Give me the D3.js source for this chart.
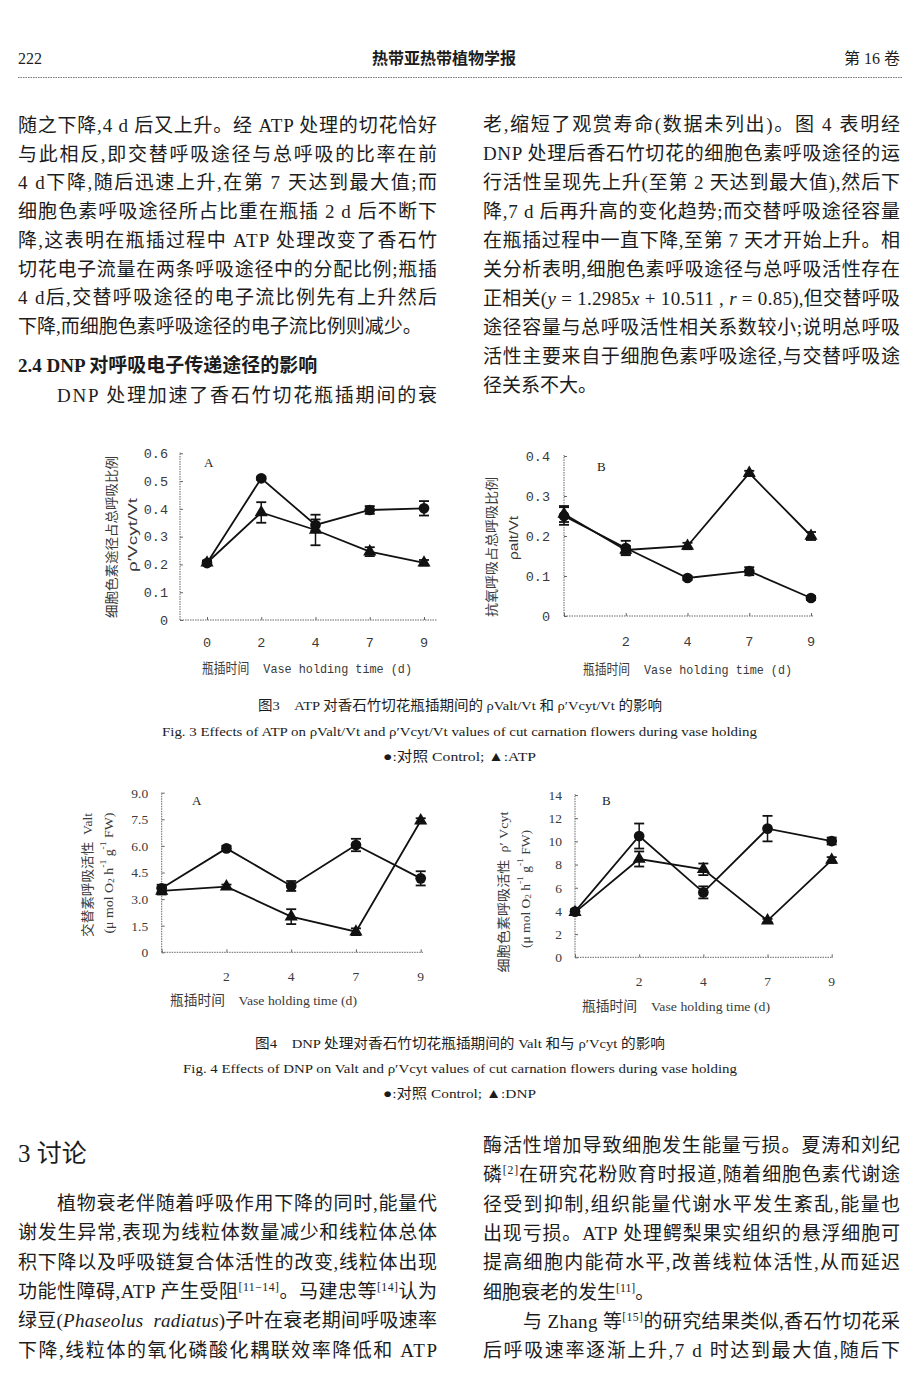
<!DOCTYPE html>
<html><head><meta charset="utf-8">
<script src="https://cdn.jsdelivr.net/npm/d3@7/dist/d3.min.js"></script>
<style>
html,body{margin:0;padding:0;background:#fff;}
svg{display:block;}
</style></head><body>
<svg id="page" width="920" height="1380"></svg>
<script>
// ---------------- DATA ----------------
const days = ["0", "2", "4", "7", "9"];

// Fig. 3A  rho'Vcyt/Vt
const fig3A_control = [0.205, 0.510, 0.342, 0.396, 0.402];
const fig3A_controlErr = [0.006, 0.006, 0.020, 0.014, 0.026];
const fig3A_atp = [0.206, 0.387, 0.324, 0.246, 0.206];
const fig3A_atpErr = [0.008, 0.037, 0.055, 0.016, 0.010];
const fig3A_yTicks = [0, 0.1, 0.2, 0.3, 0.4, 0.5, 0.6];

// Fig. 3B  rho alt/Vt
const fig3B_control = [0.250, 0.170, 0.095, 0.112, 0.045];
const fig3B_controlErr = [0.022, 0.018, 0.005, 0.010, 0.005];
const fig3B_atp = [0.255, 0.165, 0.175, 0.357, 0.200];
const fig3B_atpErr = [0.020, 0.010, 0.008, 0.006, 0.010];
const fig3B_yTicks = [0, 0.1, 0.2, 0.3, 0.4];

// Fig. 4A  Valt
const fig4A_control = [3.61, 5.86, 3.74, 6.05, 4.17];
const fig4A_controlErr = [0.20, 0.15, 0.28, 0.35, 0.40];
const fig4A_dnp = [3.46, 3.70, 2.01, 1.16, 7.42];
const fig4A_dnpErr = [0.20, 0.12, 0.42, 0.19, 0.14];
const fig4A_yTicks = [0, 1.5, 3.0, 4.5, 6.0, 7.5, 9.0];

// Fig. 4B  rho'Vcyt
const fig4B_control = [3.94, 10.46, 5.60, 11.10, 10.03];
const fig4B_controlErr = [0.20, 1.08, 0.52, 1.10, 0.30];
const fig4B_dnp = [3.88, 8.48, 7.59, 3.16, 8.39];
const fig4B_dnpErr = [0.20, 0.65, 0.50, 0.15, 0.25];
const fig4B_yTicks = [0, 2, 4, 6, 8, 10, 12, 14];

// ---------------- TEXT ----------------
const headerLeft = "222";
const headerCenter = "热带亚热带植物学报";
const headerRight = "第 16 卷";

const leftTopLines = [
  "随之下降,4 d 后又上升。经 ATP 处理的切花恰好",
  "与此相反,即交替呼吸途径与总呼吸的比率在前",
  "4 d下降,随后迅速上升,在第 7 天达到最大值;而",
  "细胞色素呼吸途径所占比重在瓶插 2 d 后不断下",
  "降,这表明在瓶插过程中 ATP 处理改变了香石竹",
  "切花电子流量在两条呼吸途径中的分配比例;瓶插",
  "4 d后,交替呼吸途径的电子流比例先有上升然后",
  "下降,而细胞色素呼吸途径的电子流比例则减少。"
];
const sectionHeading = "2.4 DNP 对呼吸电子传递途径的影响";
const leftTopLast = "DNP 处理加速了香石竹切花瓶插期间的衰";

const rightTopLines = [
  "老,缩短了观赏寿命(数据未列出)。图 4 表明经",
  "DNP 处理后香石竹切花的细胞色素呼吸途径的运",
  "行活性呈现先上升(至第 2 天达到最大值),然后下",
  "降,7 d 后再升高的变化趋势;而交替呼吸途径容量",
  "在瓶插过程中一直下降,至第 7 天才开始上升。相",
  "关分析表明,细胞色素呼吸途径与总呼吸活性存在",
  "正相关({i:y} = 1.2985{i:x} + 10.511 , {i:r} = 0.85),但交替呼吸",
  "途径容量与总呼吸活性相关系数较小;说明总呼吸",
  "活性主要来自于细胞色素呼吸途径,与交替呼吸途",
  "径关系不大。"
];

const fig3Caption = [
  "图3　ATP 对香石竹切花瓶插期间的 ρValt/Vt 和 ρ′Vcyt/Vt 的影响",
  "Fig. 3 Effects of ATP on ρValt/Vt and ρ′Vcyt/Vt values of cut carnation flowers during vase holding",
  "●:对照 Control; ▲:ATP"
];
const fig4Caption = [
  "图4　DNP 处理对香石竹切花瓶插期间的 Valt 和与 ρ′Vcyt 的影响",
  "Fig. 4 Effects of DNP on Valt and ρ′Vcyt values of cut carnation flowers during vase holding",
  "●:对照 Control; ▲:DNP"
];

const discussionHeading = "3 讨论";
const leftBottomLines = [
  "植物衰老伴随着呼吸作用下降的同时,能量代",
  "谢发生异常,表现为线粒体数量减少和线粒体总体",
  "积下降以及呼吸链复合体活性的改变,线粒体出现",
  "功能性障碍,ATP 产生受阻{s:[11−14]}。马建忠等{s:[14]}认为",
  "绿豆({i:Phaseolus  radiatus})子叶在衰老期间呼吸速率",
  "下降,线粒体的氧化磷酸化耦联效率降低和 ATP"
];
const rightBottomLines = [
  "酶活性增加导致细胞发生能量亏损。夏涛和刘纪",
  "磷{s:[2]}在研究花粉败育时报道,随着细胞色素代谢途",
  "径受到抑制,组织能量代谢水平发生紊乱,能量也",
  "出现亏损。ATP 处理鳄梨果实组织的悬浮细胞可",
  "提高细胞内能荷水平,改善线粒体活性,从而延迟",
  "细胞衰老的发生{s:[11]}。",
  "与 Zhang 等{s:[15]}的研究结果类似,香石竹切花采",
  "后呼吸速率逐渐上升,7 d 时达到最大值,随后下"
];

// ---------------- DRAW ----------------
const svg = d3.select("#page");
svg.append("rect").attr("width", 920).attr("height", 1380).attr("fill", "#fff");

const BODY = '"Liberation Serif","Noto Sans CJK SC",serif';
const INK = "#1c1c1c";

function addRich(textSel, str, supShift) {
  const parts = str.split(/(\{[is]:[^}]*\})/).filter(s => s.length);
  let pendingDown = 0;
  parts.forEach(p => {
    const m = p.match(/^\{([is]):([^}]*)\}$/);
    if (m && m[1] === "s") {
      textSel.append("tspan").attr("dy", -supShift).attr("font-size", "0.62em").text(m[2]);
      pendingDown = supShift;
    } else {
      const ts = textSel.append("tspan");
      if (pendingDown) { ts.attr("dy", pendingDown); pendingDown = 0; }
      if (m) ts.attr("font-style", "italic").text(m[2]);
      else ts.text(p);
    }
  });
}

function bodyLine(str, x, y, width, opts = {}) {
  const t = svg.append("text")
    .attr("x", x).attr("y", y)
    .attr("font-family", BODY)
    .attr("font-size", opts.size || 19)
    .attr("font-weight", opts.weight || 400)
    .attr("fill", INK)
    .attr("xml:space", "preserve");
  addRich(t, str, 7);
  if (width) t.attr("textLength", width).attr("lengthAdjust", "spacing");
  return t;
}

// header
svg.append("text").attr("x", 18).attr("y", 64).attr("font-family", BODY).attr("font-size", 16).attr("fill", INK).text(headerLeft);
svg.append("text").attr("x", 444).attr("y", 64).attr("text-anchor", "middle").attr("font-family", BODY).attr("font-size", 16).attr("font-weight", 600).attr("fill", INK).text(headerCenter);
svg.append("text").attr("x", 900).attr("y", 64).attr("text-anchor", "end").attr("font-family", BODY).attr("font-size", 16).attr("fill", INK).text(headerRight);
svg.append("line").attr("x1", 18).attr("x2", 902).attr("y1", 77.5).attr("y2", 77.5)
  .attr("stroke", "#777").attr("stroke-width", 1).attr("stroke-dasharray", "1.5,1");

// top left column
leftTopLines.forEach((s, i) => {
  bodyLine(s, 18, 132 + i * 28.7, i < leftTopLines.length - 1 ? 419 : null);
});
bodyLine(sectionHeading, 18, 372, null, { weight: 700 });
bodyLine(leftTopLast, 57, 402, 380);

// top right column
rightTopLines.forEach((s, i) => {
  bodyLine(s, 483, 131 + i * 29.0, i < rightTopLines.length - 1 ? 417 : null);
});

// bottom
bodyLine(discussionHeading, 18, 1162, null, { size: 25 });
leftBottomLines.forEach((s, i) => {
  const x = i === 0 ? 57 : 18;
  bodyLine(s, x, 1210 + i * 29.3, 437 - x);
});
rightBottomLines.forEach((s, i) => {
  const x = i === 6 ? 523 : 483;
  bodyLine(s, x, 1152 + i * 29.3, i === 5 ? null : 900 - x);
});

// captions
function caption(lines, ys, xs, widths) {
  lines.forEach((s, i) => {
    svg.append("text").attr("x", xs[i]).attr("y", ys[i])
      .attr("font-family", BODY).attr("font-size", 13.5).attr("fill", INK)
      .attr("textLength", widths[i]).attr("lengthAdjust", "spacingAndGlyphs")
      .attr("xml:space", "preserve")
      .text(s);
  });
}
caption(fig3Caption, [710, 736, 761], [258, 162, 383], [404, 595, 153]);
caption(fig4Caption, [1048, 1073, 1098], [255, 183, 383], [410, 554, 153]);

// ---------------- CHARTS ----------------
function drawChart(cfg) {
  const g = svg.append("g");
  const x = d3.scalePoint().domain(days).range(cfg.xRange);
  const y = d3.scaleLinear().domain(cfg.yDomain).range(cfg.yRange);
  const axisColor = "#666";

  // y axis
  const yAxis = d3.axisLeft(y).tickValues(cfg.yTicks).tickFormat(cfg.yFmt)
    .tickSizeInner(-3).tickSizeOuter(0).tickPadding(cfg.yPad);
  const ya = g.append("g").attr("transform", `translate(${cfg.axisX},0)`).call(yAxis);
  ya.select(".domain").remove();
  ya.selectAll(".tick line").attr("stroke", axisColor);
  ya.selectAll(".tick text").attr("font-family", cfg.font).attr("font-size", cfg.tickSize).attr("fill", "#3a3a3a");
  g.append("line").attr("x1", cfg.axisX).attr("x2", cfg.axisX)
    .attr("y1", y(0)).attr("y2", cfg.yTop)
    .attr("stroke", axisColor).attr("stroke-dasharray", "1.5,1");

  // x axis
  g.append("line").attr("x1", cfg.axisX).attr("x2", cfg.xEnd)
    .attr("y1", y(0)).attr("y2", y(0))
    .attr("stroke", axisColor).attr("stroke-dasharray", "1.5,1");
  const xAxis = d3.axisBottom(x).tickSizeInner(-3).tickSizeOuter(0).tickFormat("");
  const xa = g.append("g").attr("transform", `translate(0,${y(0)})`).call(xAxis);
  xa.select(".domain").remove();
  xa.selectAll(".tick line").attr("stroke", axisColor);
  g.selectAll(".xlab").data(days.filter(d => cfg.xLabels.includes(d))).enter().append("text")
    .attr("x", d => x(d)).attr("y", cfg.xLabelY).attr("text-anchor", "middle")
    .attr("font-family", cfg.font).attr("font-size", cfg.tickSize).attr("fill", "#3a3a3a")
    .text(d => d);

  // x title
  g.append("text").attr("x", cfg.xTitle[0]).attr("y", cfg.xTitle[1])
    .attr("font-family", cfg.titleFont).attr("font-size", 13.5).attr("fill", "#3a3a3a")
    .attr("textLength", cfg.xTitle[2]).attr("lengthAdjust", "spacingAndGlyphs")
    .attr("xml:space", "preserve")
    .text(cfg.xTitleText);

  // panel letter
  g.append("text").attr("x", cfg.letter[0]).attr("y", cfg.letter[1])
    .attr("font-family", '"Liberation Serif",serif').attr("font-size", 13).attr("fill", "#222")
    .text(cfg.letterText);

  // y titles (rotated)
  cfg.yTitles.forEach(yt => {
    const t = g.append("text")
      .attr("transform", `translate(${yt.x},${yt.cy}) rotate(-90)`)
      .attr("text-anchor", "middle").attr("dominant-baseline", "central")
      .attr("font-family", yt.font).attr("font-size", yt.size).attr("fill", "#3a3a3a")
      .attr("xml:space", "preserve");
    if (yt.len) t.attr("textLength", yt.len).attr("lengthAdjust", "spacingAndGlyphs");
    yt.parts.forEach(p => {
      const ts = t.append("tspan").text(p.t);
      if (p.dy) ts.attr("dy", p.dy);
      if (p.fs) ts.attr("font-size", p.fs);
    });
  });

  // series
  const line = d3.line().x((d, i) => x(days[i])).y(d => y(d));
  cfg.series.forEach(s => {
    g.append("path").attr("d", line(s.values)).attr("fill", "none")
      .attr("stroke", "#111").attr("stroke-width", 1.8);
  });
  cfg.series.forEach(s => {
    const eb = g.append("g");
    s.values.forEach((v, i) => {
      const cx = x(days[i]);
      const e = s.err[i];
      const y1 = y(v + e), y2 = y(v - e);
      eb.append("line").attr("x1", cx).attr("x2", cx).attr("y1", y1).attr("y2", y2).attr("stroke", "#111").attr("stroke-width", 1.5);
      [y1, y2].forEach(yy => eb.append("line").attr("x1", cx - 5).attr("x2", cx + 5).attr("y1", yy).attr("y2", yy).attr("stroke", "#111").attr("stroke-width", 1.8));
    });
  });
  cfg.series.forEach(s => {
    const sym = d3.symbol().type(s.shape === "circle" ? d3.symbolCircle : d3.symbolTriangle)
      .size(s.shape === "circle" ? 90 : 75);
    g.selectAll(null).data(s.values).enter().append("path")
      .attr("d", sym)
      .attr("transform", (d, i) => `translate(${x(days[i])},${y(d)})`)
      .attr("fill", "#111");
  });
}

const MONO = '"Liberation Mono",monospace';
const SERIF = '"Liberation Serif",serif';
const CJKSANS = '"Noto Sans CJK SC",sans-serif';
const fmt1 = v => v === 0 ? "0" : v.toFixed(1);

drawChart({
  xRange: [207, 424], axisX: 180, xEnd: 437, yDomain: [0, 0.6], yRange: [620, 453.3], yTop: 452,
  yTicks: fig3A_yTicks, yFmt: fmt1, yPad: 12, font: MONO, tickSize: 13.5,
  xLabels: ["0", "2", "4", "7", "9"], xLabelY: 647,
  titleFont: '"Liberation Mono","Noto Sans CJK SC",monospace', xTitleText: "瓶插时间  Vase holding time (d)", xTitle: [202, 673, 210],
  letter: [204, 467], letterText: "A",
  yTitles: [
    { x: 110, cy: 537, font: CJKSANS, size: 13, len: 162, parts: [{ t: "细胞色素途径占总呼吸比例" }] },
    { x: 132, cy: 535, font: '"Liberation Sans",sans-serif', size: 13, len: 74, parts: [{ t: "ρ′Vcyt/Vt" }] }
  ],
  series: [
    { values: fig3A_control, err: fig3A_controlErr, shape: "circle" },
    { values: fig3A_atp, err: fig3A_atpErr, shape: "triangle" }
  ]
});

drawChart({
  xRange: [564, 811], axisX: 564, xEnd: 814, yDomain: [0, 0.4], yRange: [616, 456], yTop: 455,
  yTicks: fig3B_yTicks, yFmt: fmt1, yPad: 14, font: MONO, tickSize: 13.5,
  xLabels: ["2", "4", "7", "9"], xLabelY: 646,
  titleFont: '"Liberation Mono","Noto Sans CJK SC",monospace', xTitleText: "瓶插时间  Vase holding time (d)", xTitle: [583, 674, 209],
  letter: [597, 471], letterText: "B",
  yTitles: [
    { x: 490, cy: 547, font: CJKSANS, size: 13, len: 140, parts: [{ t: "抗氧呼吸占总呼吸比例" }] },
    { x: 513, cy: 538, font: '"Liberation Sans",sans-serif', size: 13, len: 44, parts: [{ t: "ρalt/Vt" }] }
  ],
  series: [
    { values: fig3B_control, err: fig3B_controlErr, shape: "circle" },
    { values: fig3B_atp, err: fig3B_atpErr, shape: "triangle" }
  ]
});

const unitParts = [
  { t: "(μ mol O" }, { t: "2", dy: 3, fs: 9 }, { t: " h", dy: -3 }, { t: "-1", dy: -5, fs: 9 },
  { t: " g", dy: 5 }, { t: "-1", dy: -5, fs: 9 }, { t: " FW)", dy: 5 }
];

drawChart({
  xRange: [161.7, 420.7], axisX: 161.7, xEnd: 423, yDomain: [0, 9], yRange: [952.3, 792.7], yTop: 792,
  yTicks: fig4A_yTicks, yFmt: fmt1, yPad: 13.5, font: SERIF, tickSize: 13.5,
  xLabels: ["2", "4", "7", "9"], xLabelY: 981,
  titleFont: '"Liberation Serif","Noto Sans CJK SC",serif', xTitleText: "瓶插时间    Vase holding time (d)", xTitle: [170, 1004.5, 187],
  letter: [192, 805], letterText: "A",
  yTitles: [
    { x: 86.7, cy: 875, font: '"Liberation Serif","Noto Sans CJK SC",serif', size: 13, len: 124, parts: [{ t: "交替素呼吸活性  Valt" }] },
    { x: 108, cy: 873, font: SERIF, size: 13, len: 121, parts: unitParts }
  ],
  series: [
    { values: fig4A_control, err: fig4A_controlErr, shape: "circle" },
    { values: fig4A_dnp, err: fig4A_dnpErr, shape: "triangle" }
  ]
});

drawChart({
  xRange: [575, 831.7], axisX: 575, xEnd: 833, yDomain: [0, 14], yRange: [957.3, 795], yTop: 794,
  yTicks: fig4B_yTicks, yFmt: v => String(v), yPad: 13, font: SERIF, tickSize: 13.5,
  xLabels: ["2", "4", "7", "9"], xLabelY: 986,
  titleFont: '"Liberation Serif","Noto Sans CJK SC",serif', xTitleText: "瓶插时间    Vase holding time (d)", xTitle: [582, 1011, 188],
  letter: [602, 805], letterText: "B",
  yTitles: [
    { x: 503, cy: 892, font: '"Liberation Serif","Noto Sans CJK SC",serif', size: 13, len: 161, parts: [{ t: "细胞色素呼吸活性  ρ′ Vcyt" }] },
    { x: 525, cy: 889, font: SERIF, size: 13, len: 118, parts: unitParts }
  ],
  series: [
    { values: fig4B_control, err: fig4B_controlErr, shape: "circle" },
    { values: fig4B_dnp, err: fig4B_dnpErr, shape: "triangle" }
  ]
});
</script>
</body></html>
